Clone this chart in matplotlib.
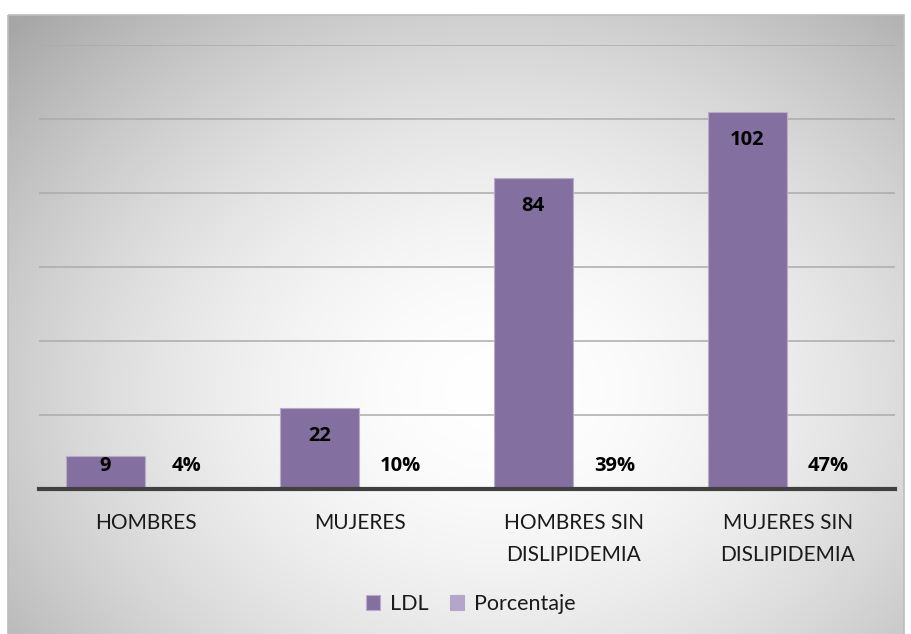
import numpy as np
import matplotlib
matplotlib.use("Agg")
import matplotlib.pyplot as plt
from matplotlib.patches import Rectangle

plt.rcParams['font.family'] = ['Lato', 'DejaVu Sans']

categories = ["HOMBRES", "MUJERES", "HOMBRES SIN\nDISLIPIDEMIA", "MUJERES SIN\nDISLIPIDEMIA"]
ldl = [9, 22, 84, 102]
porcentaje = [0.04, 0.10, 0.39, 0.47]
pct_labels = ["4%", "10%", "39%", "47%"]
series_names = ["LDL", "Porcentaje"]

W, H, DPI = 911, 634, 100
fig = plt.figure(figsize=(W / DPI, H / DPI), dpi=DPI)
fig.patch.set_facecolor("white")

# background frame with radial gradient
bg = fig.add_axes([0, 0, 1, 1], zorder=0)
bg.set_xlim(0, W)
bg.set_ylim(H, 0)
bg.axis("off")
fx0, fx1, fy0, fy1 = 8, 904, 15, 640
yy, xx = np.mgrid[fy0:fy1, fx0:fx1]
cx, cy = 500, 390
r = np.sqrt(((xx - cx) / 560.0) ** 2 + ((yy - cy) / 440.0) ** 2)
r = np.clip(r, 0, 1.2)
val = np.clip(1.0 - 0.25 * r ** 1.8, 0, 1)
img = np.dstack([val, val, val])
bg.imshow(img, extent=[fx0, fx1, fy1, fy0], aspect="auto", interpolation="bilinear")
bg.add_patch(Rectangle((fx0, fy0), fx1 - fx0, fy1 - fy0, fill=False, edgecolor="#bdbdbd", lw=1.2))

# main axes
left_px, right_px, top_px, base_px = 39, 895, 45, 489
ax = fig.add_axes([left_px / W, 1 - base_px / H, (right_px - left_px) / W, (base_px - top_px) / H], zorder=1)
ax.patch.set_alpha(0)
ymax = 120
ax.set_ylim(0, ymax)
ax.set_xlim(-0.5, 3.5)
ax.set_yticks(np.arange(20, ymax + 1, 20))
ax.yaxis.grid(True, color="#ababab", lw=1.1)
ax.set_axisbelow(True)
ax.tick_params(axis="y", left=False, labelleft=False)
ax.tick_params(axis="x", bottom=False, pad=14)
for s in ["top", "right", "left"]:
    ax.spines[s].set_visible(False)
ax.spines["bottom"].set_color("#404040")
ax.spines["bottom"].set_linewidth(3)
ax.spines["bottom"].set_zorder(5)

x = np.arange(len(categories))
bw = 0.369
off = 0.19
c_ldl = "#8470A0"
c_pct = "#B4A6C8"
ax.bar(x - off, ldl, bw, color=c_ldl, edgecolor="#B8ACCB", lw=0.8, label=series_names[0], zorder=3)
ax.bar(x + off, porcentaje, bw, color=c_pct, edgecolor=c_pct, lw=0.8, label=series_names[1], zorder=3)

ax.set_xticks(x)
ax.set_xticklabels(categories, fontsize=15, color="#1a1a1a", linespacing=1.7)

px_per_unit = (base_px - top_px) / ymax
pt = 72.0 / DPI
fs_lbl = 14.5
lbl_font = ['Open Sans', 'DejaVu Sans']
for i, v in enumerate(ldl):
    h_px = v * px_per_unit
    center_above = max(h_px - 28, 23)
    ax.annotate(str(v), xy=(x[i] - off, 0), xytext=(0, center_above * pt), textcoords="offset points",
                ha="center", va="center", fontsize=fs_lbl, fontweight="bold", family=lbl_font,
                color="black", zorder=6)
for i, v in enumerate(porcentaje):
    ax.annotate(pct_labels[i], xy=(x[i] + off, 0), xytext=(0, 23 * pt), textcoords="offset points",
                ha="center", va="center", fontsize=fs_lbl, fontweight="bold", family=lbl_font,
                color="black", zorder=6)

leg = fig.legend(loc="center", bbox_to_anchor=(471 / W, 1 - 604 / H), ncol=2, frameon=False,
                 fontsize=15.5, handlelength=0.65, handleheight=0.65, handletextpad=0.45,
                 columnspacing=1.0)
for t in leg.get_texts():
    t.set_color("#1a1a1a")

fig.savefig("out.png", dpi=DPI)
